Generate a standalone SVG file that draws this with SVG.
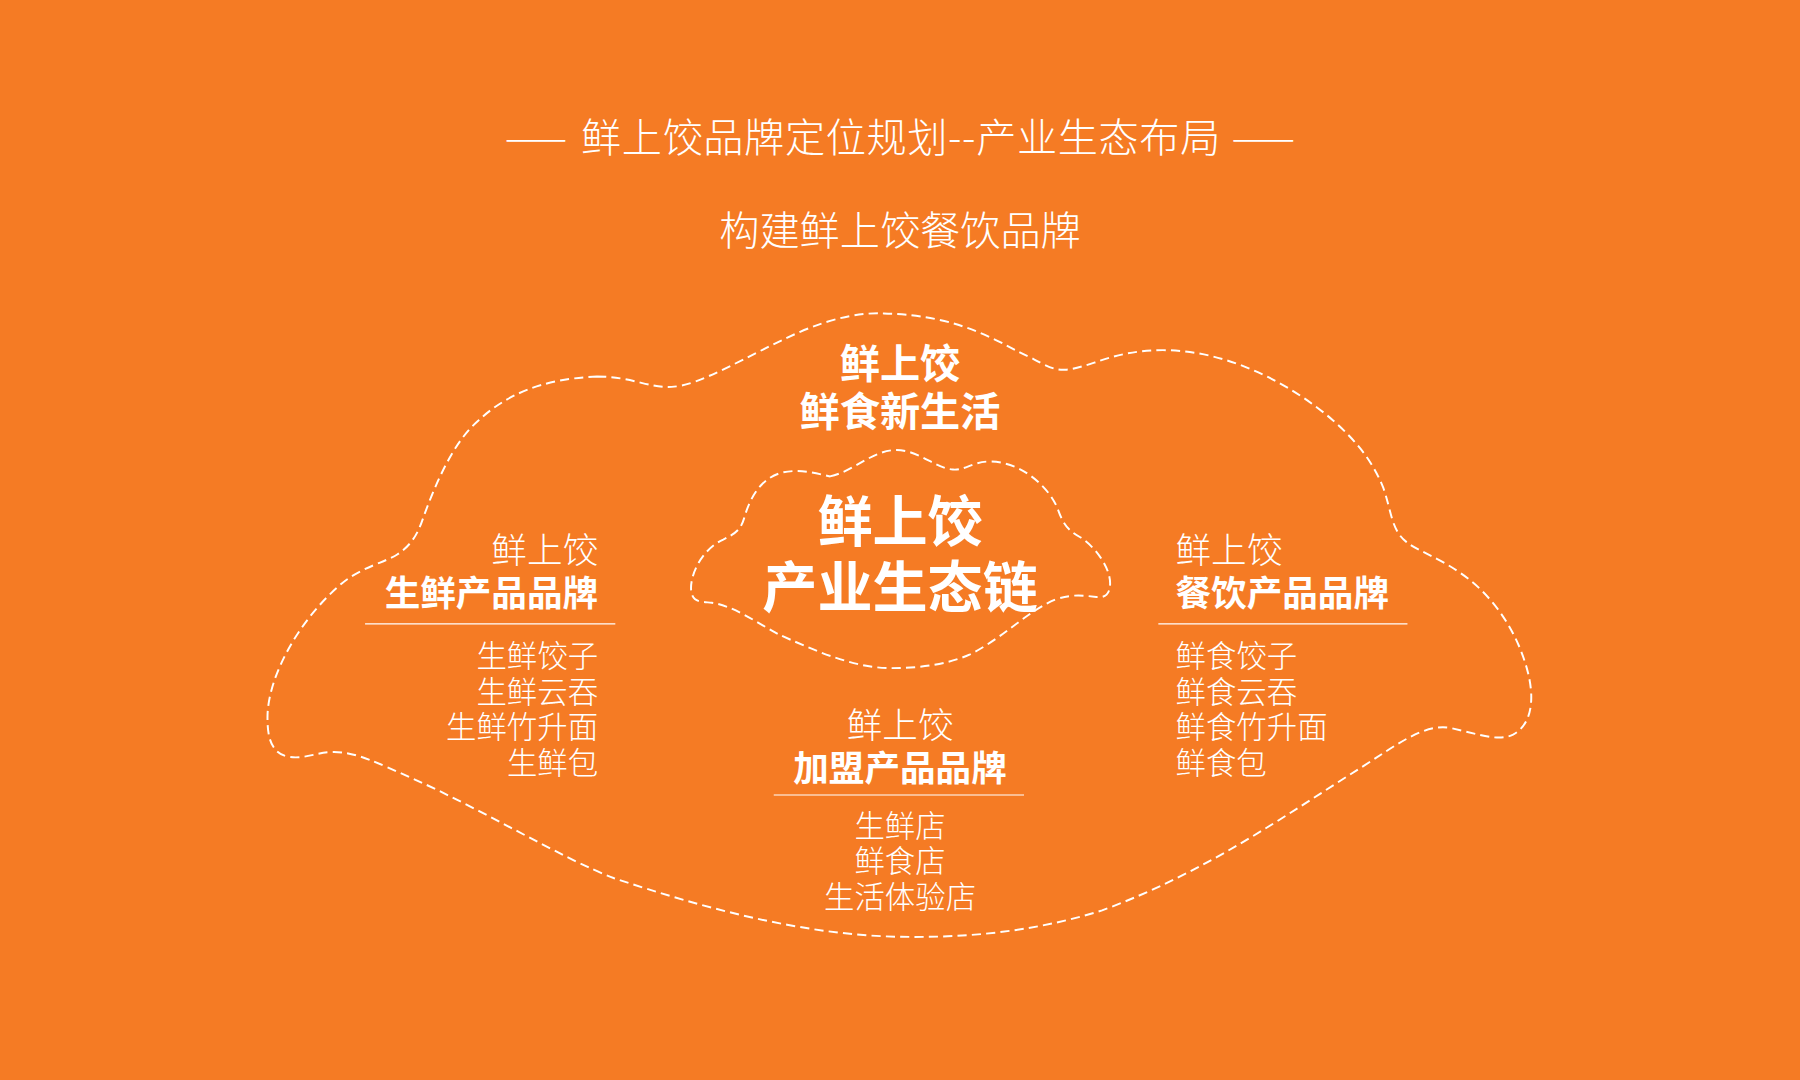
<svg xmlns="http://www.w3.org/2000/svg" width="1800" height="1080" viewBox="0 0 1800 1080">
<style>
  text { fill: #FFFFFF; font-family: "Noto Sans CJK SC", "Noto Sans", sans-serif; }
  .lt { font-weight: 300; }
  .bd { font-weight: 700; }
  .t35 { font-size: 35px; }
  .t31 { font-size: 31px; }
  .t26 { font-size: 26.5px; }
  .t48 { font-size: 48px; }
  .mid { text-anchor: middle; }
  .end { text-anchor: end; }
  .cloud { fill: none; stroke: #FFFFFF; stroke-width: 1.7; stroke-dasharray: 8 4.5; stroke-linecap: butt; }
  .rule { stroke: #FFFFFF; stroke-width: 1; }
</style>
<rect x="0" y="0" width="1800" height="1080" fill="#F57B24"/>
<g transform="scale(1.148)">
  <g id="header">
    <text class="lt t35" y="132.5"><tspan x="440" textLength="54" lengthAdjust="spacingAndGlyphs">——</tspan><tspan x="506" textLength="557" lengthAdjust="spacing">鲜上饺品牌定位规划--产业生态布局</tspan><tspan x="1073" textLength="55" lengthAdjust="spacingAndGlyphs">——</tspan></text>
    <text class="lt t35 mid" x="784" y="213">构建鲜上饺餐饮品牌</text>
  </g>
  <g id="connectors">
    <path id="outer-cloud" class="cloud" d="M 520 328 C 550 328, 565 338, 585 337 C 610 336, 650 310, 697 289 C 725 277, 750 272, 770 273 C 805 274, 830 280, 854 290 C 875 299, 885 306, 897 311 C 910 318, 918 323, 929 322 C 950 320, 970 305, 1013 305 C 1070 305, 1125 335, 1161 366 C 1180 383, 1195 400, 1205 425 C 1212 445, 1212 462, 1225 472 C 1235 480, 1250 484, 1272 499 C 1300 518, 1322 550, 1331 586 C 1336 606, 1336 630, 1318 640 C 1305 646, 1290 640, 1263 634 C 1240 630, 1215 650, 1185 669 C 1120 710, 1050 760, 960 793 C 900 812, 840 817, 785 816 C 700 815, 610 790, 535 765 C 490 748, 420 705, 359 678 C 330 665, 310 655, 291 655 C 275 655, 265 662, 250 659 C 235 655, 233 640, 233 625 C 233 590, 260 540, 298 508 C 315 494, 335 490, 346 483 C 360 474, 365 462, 369 450 C 380 420, 395 385, 417 366 C 440 345, 470 330, 520 328 Z"/>
    <path id="inner-cloud" class="cloud" d="M 723 415 C 745 410, 760 392, 781 392 C 800 392, 815 408, 830 409 C 840 410, 848 402, 862 402 C 890 402, 915 425, 922 445 C 926 456, 930 462, 941 468 C 955 477, 967 495, 967 508 C 967 518, 962 521, 955 520 C 945 519, 935 517, 920 522 C 895 532, 875 555, 845 570 C 825 579, 800 582, 776 582 C 740 582, 700 562, 679 553 C 660 543, 640 528, 620 525 C 610 524, 603 525, 602 514 C 601 500, 612 478, 630 470 C 640 465, 645 462, 648 452 C 652 438, 660 418, 680 412 C 695 408, 710 412, 723 415 Z"/>
  </g>
  <g id="node-top">
    <text class="bd t35 mid" x="784" y="329">鲜上饺</text>
    <text class="bd t35 mid" x="784" y="371">鲜食新生活</text>
  </g>
  <g id="node-center">
    <text class="bd t48 mid" x="784" y="471">鲜上饺</text>
    <text class="bd t48 mid" x="784" y="529">产业生态链</text>
  </g>
  <g id="node-left">
    <text class="lt t31 end" x="521" y="490">鲜上饺</text>
    <text class="bd t31 end" x="521" y="528">生鲜产品品牌</text>
    <line class="rule" x1="318" y1="543.5" x2="536" y2="543.5"/>
    <text class="lt t26 end" x="521" y="581">生鲜饺子</text>
    <text class="lt t26 end" x="521" y="612">生鲜云吞</text>
    <text class="lt t26 end" x="521" y="643">生鲜竹升面</text>
    <text class="lt t26 end" x="521" y="674">生鲜包</text>
  </g>
  <g id="node-right">
    <text class="lt t31" x="1024" y="490">鲜上饺</text>
    <text class="bd t31" x="1024" y="528">餐饮产品品牌</text>
    <line class="rule" x1="1009" y1="543.5" x2="1226" y2="543.5"/>
    <text class="lt t26" x="1024" y="581">鲜食饺子</text>
    <text class="lt t26" x="1024" y="612">鲜食云吞</text>
    <text class="lt t26" x="1024" y="643">鲜食竹升面</text>
    <text class="lt t26" x="1024" y="674">鲜食包</text>
  </g>
  <g id="node-bottom">
    <text class="lt t31 mid" x="784" y="643">鲜上饺</text>
    <text class="bd t31 mid" x="784" y="680">加盟产品品牌</text>
    <line class="rule" x1="674" y1="692.5" x2="892" y2="692.5"/>
    <text class="lt t26 mid" x="784" y="729">生鲜店</text>
    <text class="lt t26 mid" x="784" y="760">鲜食店</text>
    <text class="lt t26 mid" x="784" y="791">生活体验店</text>
  </g>
</g>
</svg>
